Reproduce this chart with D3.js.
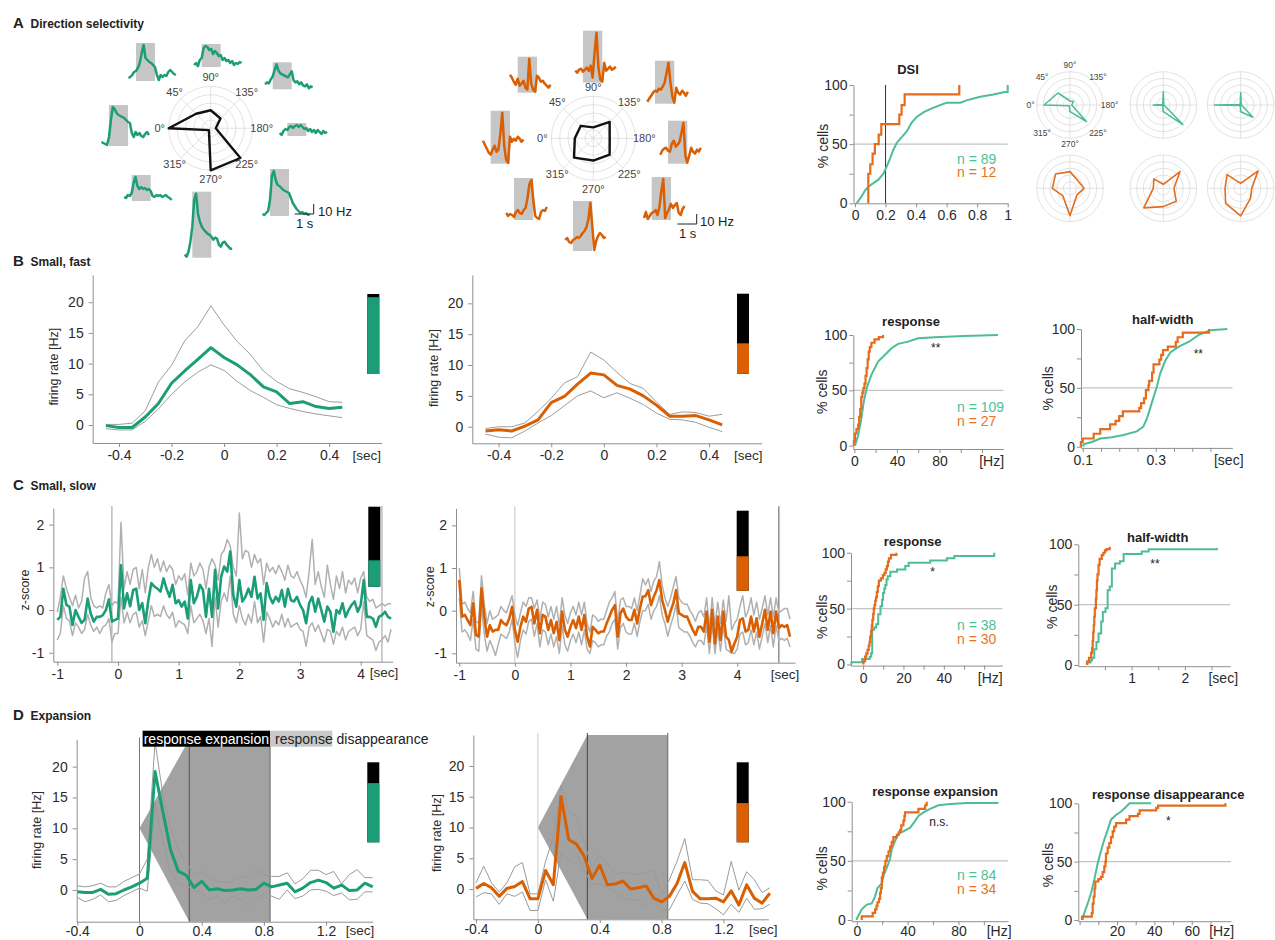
<!DOCTYPE html>
<html>
<head>
<meta charset="utf-8">
<script src="https://cdn.jsdelivr.net/npm/d3@7"></script>
<style>
  body { margin: 0; background: #fff; }
  svg { font-family: "Liberation Sans", Arial, Helvetica, sans-serif; }
  .axis path, .axis line { stroke: #8f8f8f; }
  .axis text { fill: #2b2b2b; font-size: 14px; font-family: "Liberation Sans", Arial, Helvetica, sans-serif; }
</style>
</head>
<body>
<script>
// ---------------- data ----------------
// A: direction tuning (8 directions, normalised response)
const directions = [0, 45, 90, 135, 180, 225, 270, 315];
const directionLabels = ["0°", "45°", "90°", "135°", "180°", "225°", "270°", "315°"];
const ringLevels = [0.2, 0.4, 0.6, 0.8, 1];
const tuningGreen = [1.0, 0.49, 0.43, 0.33, 0.12, 1.0, 1.0, 0.06];
const tuningOrange = [0.44, 0.42, 0.26, 0.55, 0.39, 0.55, 0.53, 0.65];

// example PSTHs per direction (Hz), 0.1 s bins starting at -0.4 s
const psthGreen = [
  [3,2,1,0,8,25,38,36,32,30,29,28,27,25,23,22,12,8,13,10,12,9,8,11,13,10],
  [2,3,5,8,9,12,17,27,35,22,20,18,17,15,13,5,0,5,3,5,4,8,10,8,6,5],
  [3,5,2,8,10,20,22,21,18,19,14,17,15,12,13,8,10,7,8,5,7,3,5,4,6,5],
  [4,6,5,9,12,18,24,18,15,14,13,12,11,14,17,8,6,7,4,6,3,2,4,0,2,1],
  [2,0,4,6,5,8,9,7,9,10,8,10,8,6,7,4,6,3,5,2,5,3,1,4,2,3],
  [4,3,5,7,18,42,47,38,33,32,30,28,27,26,25,20,15,12,9,7,5,6,4,5,3,4],
  [2,0,5,15,30,57,63,43,35,30,27,25,23,22,20,17,19,18,12,10,14,15,12,10,8,8],
  [4,3,6,5,8,18,24,15,12,14,12,13,11,12,10,5,4,6,5,6,4,5,6,4,3,1]
];
const psthOrange = [
  [23,19,15,11,9,14,18,12,14,30,51,18,4,1,27,22,25,23,27,25,22,24],
  [19,16,12,9,15,8,10,13,6,4,35,10,4,2,18,16,12,13,10,8,6,9],
  [12,10,13,14,11,13,15,12,17,5,30,50,15,3,1,20,12,14,16,13,14,16],
  [3,6,9,12,14,13,16,15,18,22,32,42,22,8,2,17,12,10,14,12,9,13],
  [11,15,17,18,15,14,22,25,19,21,24,33,43,10,3,10,18,14,12,16,14,18],
  [3,9,2,5,8,9,11,6,14,30,42,3,8,12,17,13,16,18,8,6,12,15],
  [13,15,11,10,13,14,16,15,17,20,22,26,34,50,27,3,12,17,20,18,15,16],
  [9,6,8,7,5,10,12,9,8,12,14,24,38,42,22,6,4,3,10,12,11,15]
];

// small example tuning curves
const smallTuningGreen = [
  [0.78,0.51,0.12,0.15,0.05,0.7,0.2,0.03],
  [0.3,0.02,0.4,0.02,0.02,0.83,0.2,0.02],
  [0.79,0.02,0.37,0.02,0.02,0.52,0.2,0.02]
];
const smallTuningOrange = [
  [0.53,0.61,0.5,0.33,0.42,0.29,0.82,0.31],
  [0.3,0.4,0.12,0.71,0.32,0.55,0.55,0.83],
  [0.47,0.58,0.15,0.74,0.33,0.42,0.83,0.64]
];

// cumulative distributions [value, % cells]
const dsiGreen = [[0.01,0],[0.022,2],[0.044,6],[0.066,11],[0.087,14],[0.12,17],[0.153,20],[0.186,25],[0.207,31],[0.23,38],[0.25,45],[0.273,51],[0.306,56],[0.34,61],[0.37,68],[0.404,73],[0.45,77],[0.5,80],[0.557,83],[0.6,85],[0.69,85],[0.73,87],[0.82,90],[0.906,92],[0.98,94],[1.0,94],[1.0,100]];
const dsiOrange = [[0.087,0],[0.087,25],[0.1,33],[0.115,42],[0.13,50],[0.155,58],[0.172,67],[0.29,75],[0.305,83],[0.325,92],[0.683,100]];
const fastRespGreen = [[0.7,0],[1,1],[3.4,9],[6.5,24],[8.7,39],[11.9,53],[16,64],[22.3,76],[28.6,82],[34.9,88],[41.1,92],[50.5,94],[59.9,97],[75.5,98],[103,99],[135,100]];
const fastRespOrange = [[-0.5,0],[-0.5,4],[0.5,11],[2,15],[3.5,19],[4.5,26],[5.5,33],[6.5,44],[7.5,48],[8.5,52],[9.5,56],[10.5,63],[11.5,70],[12.5,78],[13.5,85],[14.5,89],[16,93],[19,96],[23,98],[27,100]];
const fastHalfGreen = [[0.102,0],[0.102,2],[0.125,4],[0.148,7],[0.18,8],[0.212,10],[0.248,13],[0.266,17],[0.276,24],[0.285,33],[0.294,42],[0.303,51],[0.312,62],[0.326,73],[0.34,80],[0.363,85],[0.39,89],[0.418,95],[0.45,99],[0.496,100]];
const fastHalfOrange = [[0.095,0],[0.095,4],[0.1,7],[0.13,11],[0.148,15],[0.175,19],[0.19,22],[0.2,26],[0.21,30],[0.255,33],[0.26,37],[0.268,41],[0.273,48],[0.28,52],[0.282,56],[0.29,63],[0.294,70],[0.31,74],[0.315,78],[0.32,82],[0.333,85],[0.355,89],[0.36,93],[0.374,97],[0.446,100]];
const slowRespGreen = [[-5.8,0],[-5.8,2],[-0.5,5],[3.3,7],[4,10],[4.5,31],[5.5,33],[6.5,36],[7.5,45],[8.6,52],[9.4,58],[9.9,64],[10.5,68],[11,71],[11.6,76],[12.2,79],[13.5,83],[16.8,85],[20.9,88],[22.6,91],[33.3,93],[41.5,95],[45.2,97],[65,100]];
const slowRespOrange = [[0.2,0],[0.2,3],[1,7],[1.6,10],[2.2,13],[2.8,17],[3.2,20],[3.5,25],[4,30],[4.3,35],[4.6,40],[5,45],[5.3,50],[5.6,53],[6,57],[6.4,60],[6.8,65],[7.3,70],[7.8,75],[8.8,77],[9.8,80],[10.6,82],[11.2,85],[11.8,88],[12.3,92],[12.8,95],[13.8,98],[16.5,100]];
const slowHalfGreen = [[0.16,0],[0.16,2],[0.23,4],[0.26,6],[0.3,13],[0.34,19],[0.38,26],[0.43,36],[0.46,44],[0.51,47],[0.55,62],[0.59,65],[0.63,80],[0.69,84],[0.78,86],[0.85,92],[1.19,94],[1.32,96],[2.6,97]];
const slowHalfOrange = [[0.17,0],[0.17,3],[0.2,6],[0.24,10],[0.26,14],[0.27,20],[0.28,27],[0.29,33],[0.3,40],[0.31,47],[0.33,55],[0.34,62],[0.35,70],[0.36,75],[0.38,83],[0.4,88],[0.44,91],[0.47,93],[0.5,95],[0.53,96],[0.59,98]];
const expGreen = [[0,0],[0,1],[3.9,9],[7.9,13],[11.8,14],[14.4,20],[16.3,27],[19.7,31],[21.5,39],[23.6,44],[26.2,52],[27.6,60],[30.2,67],[32.8,73],[36.7,75],[42,78],[46,84],[48.5,88],[52.5,91],[57.7,94],[64.3,97],[73.5,98],[86.6,99],[111.5,99]];
const expOrange = [[3.9,0],[3.9,3],[12.5,6],[14.4,9],[15.5,12],[16.3,15],[17.5,18],[18.4,23],[19,27],[19.7,36],[20.5,40],[21.5,45],[22.5,50],[23.6,54],[25,58],[26.2,62],[27.5,66],[28.8,70],[31.5,72],[33,74],[34,76],[35,80],[36.7,84],[37.5,88],[38,91],[48.5,94],[53.8,97],[55,100]];
const disGreen = [[1.6,0],[1.6,1],[2.5,6],[4.3,14],[6.1,23],[7.8,34],[9.6,48],[11.4,59],[13.2,69],[15,77],[16.8,86],[19.5,90],[22.2,93],[24.9,97],[26.7,100],[38.3,100]];
const disOrange = [[1.3,0],[1.3,3],[6.5,6],[7,14],[7.5,20],[8,27],[8.4,33],[10,35],[11.4,37],[12.3,41],[13.2,46],[13.8,50],[14.1,57],[15,62],[15.9,66],[16.8,71],[17.7,76],[18.5,80],[19.5,83],[24.9,86],[26.7,89],[31.2,91],[32.1,94],[41,96],[42,98],[77,98],[78,100]];

const nDSI = [89, 12], nFast = [109, 27], nSlow = [38, 30], nExp = [84, 34];
const sigLabels = ["**", "**", "*", "**", "n.s.", "*"];

// B: small, fast (Hz, 0.05 s bins from -0.45 s)
const fastMeanGreen = [-0.1,-0.4,-0.4,1.3,3.5,6.8,8.8,10.7,12.6,11.0,9.8,8.2,6.2,5.4,3.5,3.8,3.0,2.7,2.9];
const fastUpGreen = [0.1,0.1,0.3,2.3,7.0,9.7,13.7,16.0,19.4,16.3,13.6,11.5,8.8,7.1,5.9,5.3,4.6,3.8,3.7];
const fastLowGreen = [-0.6,-0.8,-0.8,0.6,2.6,5.0,7.0,8.6,9.8,8.9,7.1,5.6,4.5,3.3,2.7,2.2,1.8,1.5,1.2];
const fastMeanOrange = [-0.7,-0.5,-0.7,0.1,1.1,3.9,4.9,6.9,8.7,8.4,6.7,6.1,5.0,3.5,1.7,1.7,1.8,1.1,0.3];
const fastUpOrange = [-0.3,0,0,0.6,2.5,4.6,7.1,8.1,12.1,10.8,8.8,7.0,6.2,4.0,2.0,2.4,2.3,1.7,2.0];
const fastLowOrange = [-1.2,-1.7,-1.8,-0.7,0.6,1.8,3.4,5.0,5.8,4.7,5.5,4.6,3.6,2.2,1.2,1.1,0.7,-0.1,-0.8];

// C: small, slow (z-score, 0.05 s bins from -1 s)
const slowMeanGreen = [
  -0.23,-0.16,0.5,0.12,0.08,-0.35,0,-0.16,-0.3,-0.23,
  0.27,-0.08,-0.27,-0.16,-0.16,-0.12,0,0.25,-0.27,-0.23,
  -0.2,1.05,0.04,0.39,0.09,0.47,0.5,0,0.16,-0.31,
  0.23,0.63,0.55,0.5,0.43,0.74,0.5,0.31,0.59,0.16,
  0.23,0.08,0.2,-0.2,0.7,0.16,0.31,0.59,0.47,-0.16,
  0.5,-0.16,0.94,0.04,0.78,1.02,0.9,1.37,0.35,0.08,
  0.7,0.2,0.31,0.5,0.31,0.78,0.27,0.39,-0.23,0.63,
  0.31,0.16,0.31,0.2,0.47,0.08,0.5,0.23,0.2,0.31,
  0.12,0,-0.31,0.16,0.31,-0.04,0.27,0,-0.27,0.08,
  -0.04,-0.51,0,-0.08,0.16,-0.16,0,0.12,0.2,-0.04,
  0.12,0.7,-0.16,-0.16,-0.2,-0.39,-0.16,-0.12,-0.04,-0.16,
  -0.2];
const slowUpGreen = [
  -0.05,0.3,0.8,0.5,0.3,0.1,0.35,0.05,0.2,0.75,
  0.9,0.3,0.1,0.05,0.1,0.05,0.4,0.6,0.1,0.2,
  0.15,2.05,0.5,0.9,0.6,0.95,1.0,0.5,0.95,0.4,
  1.0,1.3,1.0,1.2,0.9,1.15,0.9,1.05,0.95,0.6,
  0.8,0.7,0.85,0.35,1.1,0.8,0.9,1.1,0.95,0.5,
  1.0,1.2,1.05,0.7,1.3,1.4,1.65,1.5,1.0,0.8,
  2.27,1.2,1.4,1.35,1.0,1.3,1.1,1.2,0.6,1.1,
  0.9,1.0,0.85,1.05,0.9,0.7,1.05,0.8,0.75,0.9,
  0.7,0.55,0.3,0.9,1.65,0.6,0.9,0.55,0.3,1.05,
  0.6,0.25,0.8,0.5,0.9,0.4,0.7,0.6,0.75,0.4,
  0.75,0.9,0.3,0.2,0.25,0.05,0.1,0.15,0.1,0.15,
  0.15];
const slowLowGreen = [
  -0.7,-0.55,0.1,-0.2,-0.25,-0.6,-0.3,-0.4,-0.55,-0.45,
  -0.1,-0.35,-0.5,-0.4,-0.55,-0.4,-0.35,-0.2,-0.75,-0.55,
  -0.55,0.3,-0.3,-0.05,-0.3,-0.1,-0.05,-0.4,-0.25,-0.6,
  -0.25,0.1,-0.15,-0.1,-0.15,0.1,-0.1,-0.2,-0.05,-0.4,
  -0.25,-0.3,-0.35,-0.55,0.1,-0.3,-0.2,-0.1,-0.25,-0.55,
  -0.2,-0.85,0.3,-0.4,0.2,0.4,0.2,0.8,-0.1,-0.3,
  0.1,-0.2,-0.35,-0.1,-0.3,0.2,-0.3,-0.15,-0.75,-0.05,
  -0.2,-0.4,-0.25,-0.35,-0.1,-0.4,-0.2,-0.4,-0.35,-0.3,
  -0.45,-0.5,-0.85,-0.4,-0.3,-0.5,-0.35,-0.55,-0.75,-0.45,
  -0.5,-0.8,-0.5,-0.6,-0.4,-0.7,-0.5,-0.45,-0.4,-0.6,
  -0.45,0.2,-0.6,-0.65,-0.7,-0.95,-0.75,-0.7,-0.6,-0.75,
  -0.45];
const slowMeanOrange = [
  0.72,-0.14,-0.1,-0.22,-0.34,0.17,-0.57,-0.61,0.52,-0.14,
  -0.61,-0.34,-0.49,-0.45,-0.45,-0.22,-0.3,-0.34,-0.18,0.09,
  -0.45,-0.73,-0.38,-0.14,-0.26,0.05,0.09,-0.3,0.02,-0.53,
  -0.1,-0.14,-0.45,-0.22,-0.53,-0.26,-0.69,-0.02,-0.45,-0.61,
  -0.38,-0.22,-0.41,-0.14,-0.45,-0.1,-0.61,-0.84,-0.38,-0.45,
  -0.53,-0.49,-0.49,-0.3,-0.14,0.02,0.13,-0.61,-0.06,0.05,
  -0.14,-0.22,-0.22,0.02,-0.3,0.05,0.33,0.34,0.48,0.13,
  0.33,0.48,0.72,0.25,0.02,-0.26,-0.02,0.17,0.48,-0.06,
  -0.1,-0.14,-0.14,-0.3,-0.45,-0.57,-0.38,-0.38,-0.49,-0.02,
  -0.73,0.02,-0.77,-0.14,-0.69,-0.02,-0.61,-0.69,-0.96,-0.77,
  -0.61,-0.22,-0.18,-0.49,-0.45,-0.14,-0.49,-0.18,-0.61,-0.3,
  0.02,-0.45,-0.02,-0.53,-0.02,-0.41,-0.34,-0.38,-0.34,-0.61];
const slowUpOrange = [
  1.0,0.15,0.2,0.05,-0.05,0.45,-0.25,-0.3,0.82,0.15,
  -0.3,0.0,-0.2,-0.15,-0.1,0.1,0.0,-0.05,0.15,0.35,
  -0.1,-0.35,-0.05,0.2,0.1,0.3,0.3,0.05,0.25,-0.2,
  0.2,0.15,-0.15,0.1,-0.2,0.1,-0.35,0.3,-0.1,-0.3,
  -0.05,0.1,-0.1,0.2,-0.1,0.2,-0.3,-0.5,-0.1,-0.15,
  -0.25,-0.2,-0.2,0.0,0.2,0.3,0.45,-0.3,0.25,0.3,
  0.1,0.1,0.05,0.3,0.0,0.35,0.75,0.6,0.75,0.45,
  0.7,0.8,1.15,0.6,0.3,0.1,0.3,0.55,0.8,0.3,
  0.2,0.15,0.15,0.0,-0.1,-0.25,-0.05,0.0,-0.15,0.3,
  -0.4,0.3,-0.35,0.2,-0.3,0.25,-0.25,0.35,-0.45,-0.3,
  -0.2,0.1,0.35,-0.15,0.0,0.3,-0.1,0.2,-0.2,0.05,
  0.35,-0.1,0.3,-0.15,0.3,-0.05,0.0,0.05,0.05,-0.2];
const slowLowOrange = [
  0.3,-0.5,-0.45,-0.55,-0.7,-0.2,-0.9,-0.95,0.1,-0.55,
  -0.95,-0.7,-0.85,-1.05,-0.8,-0.55,-0.6,-0.65,-0.5,-0.2,
  -0.75,-1.1,-0.7,-0.45,-0.55,-0.25,-0.2,-0.6,-0.3,-0.85,
  -0.45,-0.5,-0.8,-0.55,-0.85,-0.6,-1.0,-0.35,-0.8,-0.95,
  -0.7,-0.55,-0.75,-0.5,-0.8,-0.45,-0.9,-1.0,-0.7,-0.75,
  -0.85,-0.8,-0.8,-0.6,-0.5,-0.3,-0.2,-0.9,-0.4,-0.3,
  -0.5,-0.55,-0.55,-0.3,-0.6,-0.25,0.0,0.0,0.15,-0.2,
  0.0,0.1,0.35,-0.1,-0.3,-0.6,-0.35,-0.15,0.15,-0.4,
  -0.45,-0.5,-0.5,-0.6,-0.75,-0.85,-0.7,-0.7,-0.8,-0.35,
  -1.0,-0.3,-1.0,-0.45,-0.95,-0.35,-0.9,-0.95,-1.0,-1.0,
  -0.9,-0.55,-0.5,-0.8,-0.75,-0.45,-0.8,-0.5,-0.9,-0.6,
  -0.3,-0.75,-0.35,-0.85,-0.35,-0.7,-0.65,-0.7,-0.65,-0.85];

// D: expansion (Hz, 0.05 s bins from -0.4 s)
const expMeanGreen = [-0.3,-0.4,-0.4,0.1,-0.7,-0.6,0,0.5,1.1,1.9,19.2,12.7,6.5,3.0,2.4,0.4,1.4,0,0.2,-0.1,0,0.2,0,0.1,1.1,0.5,0.8,1.1,-0.3,0.3,1.2,1.6,1.2,0.3,0.8,-0.1,0,1.1,0.5];
const expUpGreen = [0.7,0.5,0.7,1.1,0.5,0.5,1.4,2.0,2.6,5.0,24.0,15.5,10.0,6.5,4.5,2.5,3.0,2.0,1.3,1.3,1.3,2.3,2.0,3.3,2.5,2.2,2.2,2.8,1.0,1.8,3.2,3.2,2.5,3.0,1.0,2.5,3.3,2.0,2.0];
const expLowGreen = [-1.2,-1.9,-1.5,-0.8,-1.9,-1.7,-0.9,-0.3,0.3,-0.2,14.0,8.0,3.0,1.0,0.5,0.2,-0.5,-1.5,-1.0,-2.2,-1.0,-1.5,-2.6,-1.5,-0.6,-1.0,-1.5,0.0,-1.4,-1.0,0.0,0.1,-0.2,-0.9,-0.5,-1.6,-1.5,-0.3,-0.3];
const expMeanOrange = [0.1,0.9,0.2,-1.2,0.1,0.4,1.2,-1.6,-1.6,3.0,0.7,15.0,8.0,7.3,5.3,1.7,3.9,0.7,0.8,1.3,0,0.2,0.5,-1.5,-2.1,-1.2,0.9,4.3,-0.4,-1.6,-1.6,-1.5,-2.1,-0.3,-2.6,0.7,-1.5,-2.3,-0.7];
const expUpOrange = [1.0,3.7,1.0,-0.5,1.0,3.6,4.3,-0.8,-0.8,4.5,8.5,16.8,12.5,11.8,7.5,3.5,5.6,4.0,2.5,2.7,2.5,2.4,2.7,3.0,-0.8,1.5,4.5,8.2,1.5,1.5,1.4,-0.3,-1.0,4.5,-0.2,2.8,1.5,-0.6,0.2];
const expLowOrange = [-1.3,-0.6,-0.8,-2.5,-0.8,-1.2,-0.5,-3.5,-3.5,1.5,-2.0,6.0,4.5,5.8,3.0,0.7,0.8,0.3,-0.5,-1.5,-1.8,-1.8,-3.0,-1.5,-3.5,-3.4,-1.0,1.3,-1.7,-2.3,-2.4,-3.2,-4.2,-2.5,-3.8,-1.5,-3.3,-3.2,-2.5];
const expansionOnset = [0, 10];       // [s, Hz] apex of the expansion cone
const expansionEnd = 0.32, disappearanceEnd = 0.84;

// fraction of cells in the coloured class (stacked bars)
const classFraction = [0.96, 0.38, 0.33, 0.43, 0.74, 0.49];

// ---------------- drawing ----------------
const GREEN = "#1b9e77", ORANGE = "#d95f02";
const CDF_GREEN = "#4dbd94", CDF_ORANGE = "#e56c1c";
const svg = d3.select("body").append("svg").attr("width", 1275).attr("height", 940);
const fmt = d => String(d);

function label(x, y, s, o = {}) {
  const t = svg.append("text").attr("x", x).attr("y", y).text(s)
    .attr("font-size", o.size || 14)
    .attr("font-weight", o.bold ? "bold" : null)
    .attr("fill", o.fill || "#222")
    .attr("text-anchor", o.anchor || "start");
  if (o.rotate) t.attr("transform", `rotate(-90,${x},${y})`).attr("dy", "0.35em");
  return t;
}

// panel headings
label(13, 28, "A", {size: 15, bold: true});
label(30.5, 28, "Direction selectivity", {size: 12, bold: true});
label(13, 266, "B", {size: 15, bold: true});
label(30.5, 266, "Small, fast", {size: 12, bold: true});
label(13, 490, "C", {size: 15, bold: true});
label(30.5, 490, "Small, slow", {size: 12, bold: true});
label(13, 720, "D", {size: 15, bold: true});
label(30.5, 720, "Expansion", {size: 12, bold: true});

// polar tuning plot
function polarPlot(cx, cy, R, vals, o) {
  const g = svg.append("g").attr("transform", `translate(${cx},${cy})`);
  const r = d3.scaleLinear().domain([0, 1]).range([0, R]);
  g.selectAll(".ring").data(ringLevels).join("circle").attr("class", "ring")
    .attr("r", d => r(d)).attr("fill", "none").attr("stroke", "#dadada").attr("stroke-width", 0.8);
  g.selectAll(".spoke").data(o.spokes).join("line").attr("class", "spoke")
    .attr("x2", d => -r(1) * Math.cos(d * Math.PI / 180))
    .attr("y2", d => -r(1) * Math.sin(d * Math.PI / 180))
    .attr("stroke", "#dadada").attr("stroke-width", 0.8);
  if (o.labelR) {
    g.selectAll(".dl").data(directions).join("text").attr("class", "dl")
      .attr("x", d => -o.labelR * Math.cos(d * Math.PI / 180))
      .attr("y", d => -o.labelR * Math.sin(d * Math.PI / 180))
      .attr("dy", "0.35em").attr("text-anchor", "middle")
      .attr("font-size", o.labelSize).attr("fill", "#444")
      .text((d, i) => directionLabels[i]);
  }
  const radial = d3.lineRadial()
    .angle((d, i) => (directions[i] - 90) * Math.PI / 180)
    .radius(d => r(d)).curve(d3.curveLinearClosed);
  g.append("path").datum(vals).attr("d", radial).attr("fill", "none")
    .attr("stroke", o.color).attr("stroke-width", o.width).attr("stroke-linejoin", "round");
}

// small PSTH with stimulus window
function psth(vals, ax, ay, pxPerSec, color) {
  const x = d3.scaleLinear().domain([0, 1]).range([ax, ax + pxPerSec]);
  const [lo, hi] = d3.extent(vals);
  const y = d3.scaleLinear().domain([lo, lo + 10]).range([ay, ay - 10]);
  svg.append("rect").attr("x", x(0)).attr("width", x(1) - x(0))
    .attr("y", y(hi) - 2).attr("height", y(lo) - y(hi) + 3).attr("fill", "#c6c6c6");
  svg.append("path").datum(vals)
    .attr("d", d3.line().x((d, i) => x(-0.4 + i * 0.1)).y(d => y(d)))
    .attr("fill", "none").attr("stroke", color).attr("stroke-width", 2.5).attr("stroke-linejoin", "round");
}

const greenAnchors = [[109,145],[136,80],[201.7,66],[272.7,88.3],[287.3,135],[270,215],[192.3,256.7],[131.7,200]];
const orangeAnchors = [[490.7,162.7],[517.7,91.7],[583,81.7],[655,102.7],[668,162.7],[651.7,219],[573,250],[514,219]];
psthGreen.forEach((v, i) => psth(v, greenAnchors[i][0], greenAnchors[i][1], 19, GREEN));
psthOrange.forEach((v, i) => psth(v, orangeAnchors[i][0], orangeAnchors[i][1], 19.3, ORANGE));

polarPlot(210.7, 128.3, 42, tuningGreen, {spokes: directions, labelR: 51, labelSize: 11, color: "#111", width: 2.4});
polarPlot(593.3, 138.3, 42, tuningOrange, {spokes: directions, labelR: 51, labelSize: 11, color: "#111", width: 2.4});

// scale bars
function scaleBar(x1, y1, pxPerSec, tx, ty, sx, sy) {
  const t = d3.scaleLinear().domain([0, 1]).range([x1 - pxPerSec, x1]);
  const hz = d3.scaleLinear().domain([0, 10]).range([y1, y1 - 10]);
  svg.append("path").attr("d", `M${t(0)},${y1}H${t(1)}V${hz(10)}`)
    .attr("fill", "none").attr("stroke", "#222").attr("stroke-width", 1);
  label(tx, ty, "10 Hz", {size: 13});
  label(sx, sy, "1 s", {size: 13});
}
scaleBar(313.7, 214, 19, 318, 215.5, 296, 228);
scaleBar(696.7, 224, 19.3, 700, 226, 679, 238);

// small polar examples
const smallCx = [1070, 1163.3, 1240.7];
smallTuningGreen.forEach((v, i) => polarPlot(smallCx[i], 105, 33.3, v,
  {spokes: [0, 90, 180, 270], labelR: i === 0 ? 39.5 : 0, labelSize: 8.5, color: CDF_GREEN, width: 1.6}));
smallTuningOrange.forEach((v, i) => polarPlot(smallCx[i], 188.3, 33.3, v,
  {spokes: [0, 90, 180, 270], color: CDF_ORANGE, width: 1.6}));

// cumulative distribution panel
function cdfPanel(p) {
  const x = d3.scaleLinear().domain(p.xd).range(p.xr);
  const y = d3.scaleLinear().domain(p.yd).range(p.yr);
  svg.append("line").attr("x1", p.xr[0]).attr("x2", p.xr[1]).attr("y1", y(50)).attr("y2", y(50))
    .attr("stroke", "#c4c4c4").attr("stroke-width", 1.4);
  if (p.vline != null) {
    svg.append("line").attr("x1", x(p.vline)).attr("x2", x(p.vline)).attr("y1", y(0)).attr("y2", y(100))
      .attr("stroke", "#333").attr("stroke-width", 1);
  }
  const pad = p.pad == null ? 3 : p.pad;
  svg.append("g").attr("class", "axis").attr("transform", `translate(0,${p.yr[0]})`)
    .call(d3.axisBottom(x).tickValues(p.xt).tickSize(4).tickPadding(pad).tickSizeOuter(0)
      .tickFormat(d => p.xl.includes(d) ? String(d) : ""));
  svg.append("g").attr("class", "axis").attr("transform", `translate(${p.xr[0]},0)`)
    .call(d3.axisLeft(y).tickValues([0, 25, 50, 75, 100]).tickSize(4).tickPadding(2).tickSizeOuter(0)
      .tickFormat(d => d % 50 === 0 ? String(d) : ""));
  const lineG = d3.line().x(d => x(d[0])).y(d => y(d[1])).curve(p.greenStep ? d3.curveStepAfter : d3.curveLinear);
  const lineO = d3.line().x(d => x(d[0])).y(d => y(d[1])).curve(d3.curveStepAfter);
  svg.append("path").datum(p.green).attr("d", lineG).attr("fill", "none").attr("stroke", CDF_GREEN).attr("stroke-width", 2);
  svg.append("path").datum(p.orange).attr("d", lineO).attr("fill", "none").attr("stroke", CDF_ORANGE).attr("stroke-width", 2.2);
  label(p.title[1], p.title[2], p.title[0], {size: 13, bold: true, anchor: "middle"});
  if (p.unit) label(x(p.unit[1]), p.yr[0] + 14 + pad, p.unit[0], {size: 14, anchor: "middle", fill: "#2b2b2b"});
  label(p.ylab[0], p.ylab[1], "% cells", {size: 14, rotate: true, anchor: "middle", fill: "#2b2b2b"});
  if (p.n) {
    label(957, p.nY, "n = " + p.n[0], {size: 14, fill: "#4fbf96"});
    label(957, p.nY + 13.5, "n = " + p.n[1], {size: 14, fill: "#e8731f"});
  }
  if (p.sig) label(p.sig[1], p.sig[2], p.sig[0], {size: 12, anchor: "middle", fill: "#222"});
}

cdfPanel({xd: [-0.01, 1], xr: [853.5, 1007.7], yd: [0, 100], yr: [203.3, 85],
  xt: [0, 0.2, 0.4, 0.6, 0.8, 1], xl: [0, 0.2, 0.4, 0.6, 0.8, 1], unit: null, vline: 0.2,
  title: ["DSI", 908, 74], ylab: [823, 146], green: dsiGreen, orange: dsiOrange, greenStep: false,
  n: nDSI, nY: 163.5});
cdfPanel({xd: [-1, 140], xr: [853.3, 1003.3], yd: [-3, 100], yr: [449, 335],
  xt: [0, 20, 40, 60, 80, 100, 120], xl: [0, 40, 80], unit: ["[Hz]", 129],
  title: ["response", 911, 326], ylab: [821.7, 391.7], green: fastRespGreen, orange: fastRespOrange,
  n: nFast, nY: 412, sig: [sigLabels[0], 935.7, 352]});
cdfPanel({xd: [0.0953, 0.51], xr: [1081, 1232.4], yd: [-1, 100], yr: [447.9, 329],
  xt: [0.1, 0.15, 0.2, 0.25, 0.3, 0.35, 0.4, 0.45], xl: [0.1, 0.3], unit: ["[sec]", 0.5],
  title: ["half-width", 1162.7, 324], ylab: [1048.3, 388.3], green: fastHalfGreen, orange: fastHalfOrange,
  sig: [sigLabels[1], 1198.3, 358]});
cdfPanel({xd: [-6, 69], xr: [851, 1002.3], yd: [-1, 100], yr: [665.6, 552.7],
  xt: [0, 10, 20, 30, 40, 50, 60], xl: [0, 20, 40], unit: ["[Hz]", 63],
  title: ["response", 912.7, 546], ylab: [821.7, 616.7], green: slowRespGreen, orange: slowRespOrange, greenStep: true,
  n: nSlow, nY: 630, sig: [sigLabels[2], 932.7, 576]});
cdfPanel({xd: [0, 2.85], xr: [1078.3, 1230.2], yd: [-1, 100], yr: [666.2, 544.3],
  xt: [0.5, 1, 1.5, 2, 2.5], xl: [1, 2], unit: ["[sec]", 2.72],
  title: ["half-width", 1157.7, 542], ylab: [1051.7, 606.7], green: slowHalfGreen, orange: slowHalfOrange, greenStep: true,
  sig: [sigLabels[3], 1155, 567.7]});
cdfPanel({xd: [-4, 119], xr: [851.7, 1008], yd: [-1, 100], yr: [921.2, 801.7], pad: 1,
  xt: [0, 20, 40, 60, 80, 100], xl: [0, 40, 80], unit: ["[Hz]", 112],
  title: ["response expansion", 935, 796], ylab: [821.7, 868.3], green: expGreen, orange: expOrange,
  n: nExp, nY: 880, sig: [sigLabels[4], 939, 825.5]});
cdfPanel({xd: [-0.7, 81], xr: [1078.3, 1231], yd: [-1, 100], yr: [921.2, 803.3], pad: 1,
  xt: [0, 10, 20, 30, 40, 50, 60, 70], xl: [20, 40, 60], unit: ["[Hz]", 76],
  title: ["response disappearance", 1168.3, 799], ylab: [1048.3, 865], green: disGreen, orange: disOrange,
  sig: [sigLabels[5], 1168.3, 824.5]});

// stacked class bar
function classBar(x0, yTop, frac, color) {
  const h = d3.scaleLinear().domain([0, 1]).range([0, 80]);
  svg.append("rect").attr("x", x0).attr("y", yTop).attr("width", 12).attr("height", h(1)).attr("fill", "#000");
  svg.append("rect").attr("x", x0).attr("y", yTop + h(1 - frac)).attr("width", 12).attr("height", h(frac)).attr("fill", color);
}

// time course panel
function timePanel(p) {
  const x = d3.scaleLinear().domain(p.xd).range(p.xr);
  const y = d3.scaleLinear().domain(p.yd).range(p.yr);
  if (p.shade) {
    const poly = [[expansionOnset[0], expansionOnset[1]], [expansionEnd, p.yd[1]], [disappearanceEnd, p.yd[1]],
                  [disappearanceEnd, p.yd[0]], [expansionEnd, p.yd[0]]];
    svg.append("path").attr("d", "M" + poly.map(d => [x(d[0]), y(d[1])].join(",")).join("L") + "Z")
      .attr("fill", "#a2a2a2");
  }
  const pad = p.pad == null ? 3 : p.pad;
  svg.append("g").attr("class", "axis").attr("transform", `translate(0,${p.yr[0]})`)
    .call(d3.axisBottom(x).tickValues(p.xt).tickSize(4).tickPadding(pad).tickSizeOuter(0).tickFormat(fmt));
  svg.append("g").attr("class", "axis").attr("transform", `translate(${p.xr[0]},0)`)
    .call(d3.axisLeft(y).tickValues(p.yt).tickSize(4).tickPadding(5).tickSizeOuter(0).tickFormat(fmt));
  (p.vlines || []).forEach(v => svg.append("line").attr("x1", x(v[0])).attr("x2", x(v[0]))
    .attr("y1", p.yr[1] - 2).attr("y2", p.yr[0]).attr("stroke", v[1]).attr("stroke-width", 1));
  const line = d3.line().x((d, i) => x(p.t0 + i * p.dt)).y(d => y(d));
  p.gray.forEach(s => svg.append("path").datum(s).attr("d", line).attr("fill", "none")
    .attr("stroke", p.grayC).attr("stroke-width", p.grayW).attr("stroke-linejoin", "round"));
  svg.append("path").datum(p.mean).attr("d", line).attr("fill", "none")
    .attr("stroke", p.color).attr("stroke-width", p.meanW).attr("stroke-linejoin", "round");
  label(p.unit[0], p.unit[1], "[sec]", {size: 13.5, anchor: "middle", fill: "#2b2b2b"});
  label(p.ylab[0], p.ylab[1], p.ylabText, {size: 12.5, rotate: true, anchor: "middle", fill: "#2b2b2b"});
  classBar(p.bar[0], p.bar[1], p.frac, p.color);
  return x;
}

timePanel({xd: [-0.5, 0.6], xr: [92.7, 381.7], yd: [-2.93, 24.43], yr: [443, 275],
  xt: [-0.4, -0.2, 0, 0.2, 0.4], yt: [0, 5, 10, 15, 20], t0: -0.45, dt: 0.05,
  mean: fastMeanGreen, gray: [fastUpGreen, fastLowGreen], grayC: "#9d9d9d", grayW: 1, color: GREEN, meanW: 3,
  unit: [366.7, 460], ylab: [53.3, 366.7], ylabText: "firing rate [Hz]", bar: [367.3, 294], frac: classFraction[0]});
timePanel({xd: [-0.5, 0.6], xr: [472.3, 761.7], yd: [-2.69, 24.59], yr: [443.3, 275],
  xt: [-0.4, -0.2, 0, 0.2, 0.4], yt: [0, 5, 10, 15, 20], t0: -0.45, dt: 0.05,
  mean: fastMeanOrange, gray: [fastUpOrange, fastLowOrange], grayC: "#9d9d9d", grayW: 1, color: ORANGE, meanW: 3,
  unit: [748.3, 460], ylab: [433.3, 368], ylabText: "firing rate [Hz]", bar: [737, 293.7], frac: classFraction[1]});
timePanel({xd: [-1.066, 4.527], xr: [53.3, 392.7], yd: [-1.21, 2.39], yr: [661.7, 508],
  xt: [-1, 0, 1, 2, 3, 4], yt: [-1, 0, 1, 2], t0: -1, dt: 0.05,
  vlines: [[-0.1, "#9a9a9a"], [4.35, "#9a9a9a"]],
  mean: slowMeanGreen, gray: [slowUpGreen, slowLowGreen], grayC: "#b0b0b0", grayW: 1.5, color: GREEN, meanW: 2.6,
  unit: [384, 677], ylab: [25, 590], ylabText: "z-score", bar: [368.3, 506.7], frac: classFraction[2]});
timePanel({xd: [-1.059, 5.04], xr: [456, 795], yd: [-1.22, 2.40], yr: [662.7, 508.3],
  xt: [-1, 0, 1, 2, 3, 4], yt: [-1, 0, 1, 2], t0: -1, dt: 0.05,
  vlines: [[0, "#c4c4c4"], [4.75, "#555"]],
  mean: slowMeanOrange, gray: [slowUpOrange, slowLowOrange], grayC: "#b0b0b0", grayW: 1.5, color: ORANGE, meanW: 2.6,
  unit: [785, 679], ylab: [430, 586.7], ylabText: "z-score", bar: [736.7, 510.7], frac: classFraction[3]});
const xD = timePanel({xd: [-0.404, 1.5], xr: [76.7, 372.7], yd: [-5.14, 24.42], yr: [921.7, 739.3], pad: 0,
  xt: [-0.4, 0, 0.4, 0.8, 1.2], yt: [0, 5, 10, 15, 20], t0: -0.4, dt: 0.05, shade: true,
  vlines: [[0, "#777"], [expansionEnd, "#555"], [disappearanceEnd, "#666"]],
  mean: expMeanGreen, gray: [expUpGreen, expLowGreen], grayC: "#9a9a9a", grayW: 1, color: GREEN, meanW: 3,
  unit: [360, 935], ylab: [36.7, 830], ylabText: "firing rate [Hz]", bar: [367.3, 762.3], frac: classFraction[4]});
timePanel({xd: [-0.4175, 1.49], xr: [473.3, 768.3], yd: [-4.93, 25.04], yr: [919.3, 735], pad: 1,
  xt: [-0.4, 0, 0.4, 0.8, 1.2], yt: [0, 5, 10, 15, 20], t0: -0.4, dt: 0.05, shade: true,
  vlines: [[0, "#c8c8c8"], [expansionEnd, "#444"], [disappearanceEnd, "#666"]],
  mean: expMeanOrange, gray: [expUpOrange, expLowOrange], grayC: "#9a9a9a", grayW: 1, color: ORANGE, meanW: 3,
  unit: [763.3, 934], ylab: [436.7, 833], ylabText: "firing rate [Hz]", bar: [736.7, 762.3], frac: classFraction[5]});

// phase label boxes above D-left
svg.append("rect").attr("x", xD(0.02)).attr("y", 730.7).attr("width", xD(disappearanceEnd) - xD(0.02)).attr("height", 16).attr("fill", "#000");
svg.append("rect").attr("x", xD(disappearanceEnd)).attr("y", 730.7).attr("width", xD(1.24) - xD(disappearanceEnd)).attr("height", 16).attr("fill", "#c9c9c9");
label((xD(0.02) + xD(disappearanceEnd)) / 2, 743.5, "response expansion", {size: 14, anchor: "middle", fill: "#fff"});
label(xD(disappearanceEnd) + 5, 743.5, "response disappearance", {size: 14, fill: "#222"});
</script>
</body>
</html>
